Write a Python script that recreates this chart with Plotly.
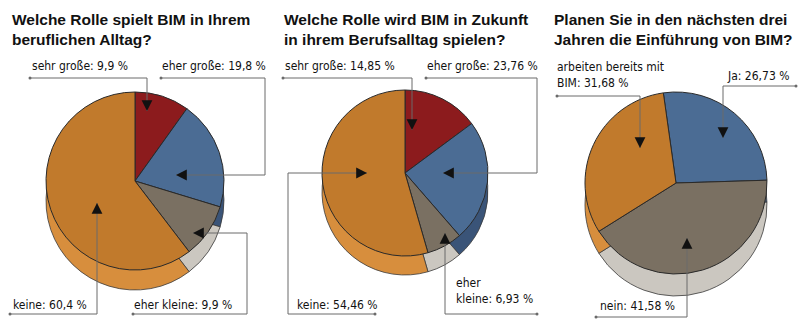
import plotly.graph_objects as go

# ---------------- data ----------------
titles = [
    "Welche Rolle spielt BIM in Ihrem<br>beruflichen Alltag?",
    "Welche Rolle wird BIM in Zukunft<br>in ihrem Berufsalltag spielen?",
    "Planen Sie in den nächsten drei<br>Jahren die Einführung von BIM?",
]

cats1 = ["sehr große", "eher große", "eher kleine", "keine"]
vals1 = [9.9, 19.8, 9.9, 60.4]
text1 = ["sehr große: 9,9 %", "eher große: 19,8 %", "eher kleine: 9,9 %", "keine: 60,4 %"]

cats2 = ["sehr große", "eher große", "eher kleine", "keine"]
vals2 = [14.85, 23.76, 6.93, 54.46]
text2 = ["sehr große: 14,85 %", "eher große: 23,76 %", "eher<br>kleine: 6,93 %", "keine: 54,46 %"]

cats3 = ["Ja", "nein", "arbeiten bereits mit BIM"]
vals3 = [26.73, 41.58, 31.68]
text3 = ["Ja: 26,73 %", "nein: 41,58 %", "arbeiten bereits mit<br>BIM: 31,68 %"]

# ---------------- styling / layout ----------------
W, H = 800, 323
TOP = {"sehr große": "#8c1b1d", "eher große": "#4b6c94", "eher kleine": "#7a7062",
       "keine": "#c17a2c", "Ja": "#4b6c94", "nein": "#7a7062",
       "arbeiten bereits mit BIM": "#c17a2c"}
SIDE = {"sehr große": "#5e1012", "eher große": "#3a5478", "eher kleine": "#cbc7c0",
        "keine": "#d78e3d", "Ja": "#3a5478", "nein": "#cbc7c0",
        "arbeiten bereits mit BIM": "#d78e3d"}

# pie geometry in pixels: centre x, centre y (from top), diameter, depth, rotation
pies = [
    dict(cats=cats1, vals=vals1, cx=135, cy=181, d=178, depth=20, rot=0),
    dict(cats=cats2, vals=vals2, cx=405, cy=173, d=166, depth=19, rot=0),
    dict(cats=cats3, vals=vals3, cx=676, cy=183, d=182, depth=22, rot=-8),
]

title_x = [10, 282, 552]
title_y = 29

# label anchor positions (left x, middle y)
label_pos = [
    [(30, 66), (160, 66), (132, 305), (11, 305)],
    [(283, 66), (425, 66), (454, 291), (295, 305)],
    [(725, 76), (598, 306), (555, 75)],
]
label_texts = [text1, text2, text3]

# leader polylines (first point has a dot, last point is the arrow tip)
leaders = [
    [(30, 78), (147, 78), (147, 111)],
    [(161, 78), (265, 78), (265, 175), (176, 175)],
    [(133, 314), (247, 314), (247, 233), (193, 233)],
    [(10, 314), (97, 314), (97, 203)],
    [(283, 78), (412, 78), (412, 130)],
    [(426, 78), (537, 78), (537, 173), (443, 173)],
    [(537, 314), (445, 314), (445, 233)],
    [(375, 314), (288, 314), (288, 173), (367, 173)],
    [(557, 96), (640, 96), (640, 148)],
    [(796, 86), (723, 86), (723, 138)],
    [(596, 317), (687, 317), (687, 238)],
]

LABEL_FONT = "DejaVu Sans Condensed, Liberation Sans, Arial, sans-serif"
TITLE_FONT = "Liberation Sans, Arial, sans-serif"
LINE_COL = "#6a6a6a"

fig = go.Figure()

def dom(cx, cy, d, shift=0):
    x0 = (cx - d / 2) / W
    x1 = (cx + d / 2) / W
    y0 = (H - (cy + shift) - d / 2) / H
    y1 = (H - (cy + shift) + d / 2) / H
    return dict(x=[x0, x1], y=[y0, y1])

for p in pies:
    # side (depth) pie
    fig.add_trace(go.Pie(
        labels=p["cats"], values=p["vals"], sort=False, direction="clockwise",
        rotation=p["rot"], domain=dom(p["cx"], p["cy"], p["d"], p["depth"]),
        marker=dict(colors=[SIDE[c] for c in p["cats"]], line=dict(color="#3a3a3a", width=0.8)),
        textinfo="none", hoverinfo="skip", showlegend=False))
    # top face
    fig.add_trace(go.Pie(
        labels=p["cats"], values=p["vals"], sort=False, direction="clockwise",
        rotation=p["rot"], domain=dom(p["cx"], p["cy"], p["d"]),
        marker=dict(colors=[TOP[c] for c in p["cats"]], line=dict(color="#2a2a2a", width=1)),
        textinfo="none", hoverinfo="skip", showlegend=False))

shapes = []
annotations = []

for path in leaders:
    d = "M " + " L ".join(f"{x},{y}" for x, y in path)
    shapes.append(dict(type="path", path=d, xref="x", yref="y",
                       line=dict(color=LINE_COL, width=1)))
    x0, y0 = path[0]
    shapes.append(dict(type="circle", xref="x", yref="y", x0=x0 - 1.5, x1=x0 + 1.5,
                       y0=y0 - 1.5, y1=y0 + 1.5, fillcolor=LINE_COL,
                       line=dict(color=LINE_COL, width=0)))
    (px, py), (tx, ty) = path[-2], path[-1]
    dx = 0 if tx == px else (1 if tx > px else -1)
    dy = 0 if ty == py else (1 if ty > py else -1)
    annotations.append(dict(x=tx, y=ty, xref="x", yref="y", text="", showarrow=True,
                            ax=-dx * 8, ay=-dy * 8, arrowhead=2, arrowsize=1.8,
                            arrowwidth=1.2, arrowcolor="#111111"))

for i, t in enumerate(titles):
    annotations.append(dict(x=title_x[i], y=title_y, xref="x", yref="y", text=f"<b>{t}</b>",
                            showarrow=False, xanchor="left", yanchor="middle", align="left",
                            font=dict(family=TITLE_FONT, size=15.5, color="#111111")))

for texts, poss in zip(label_texts, label_pos):
    for t, (x, y) in zip(texts, poss):
        annotations.append(dict(x=x, y=y, xref="x", yref="y", text=t, showarrow=False,
                                xanchor="left", yanchor="middle", align="left",
                                font=dict(family=LABEL_FONT, size=12, color="#111111")))

fig.update_layout(
    width=W, height=H, margin=dict(l=0, r=0, t=0, b=0),
    paper_bgcolor="white", plot_bgcolor="rgba(0,0,0,0)",
    xaxis=dict(range=[0, W], visible=False, fixedrange=True, domain=[0, 1]),
    yaxis=dict(range=[H, 0], visible=False, fixedrange=True, domain=[0, 1]),
    shapes=shapes, annotations=annotations, showlegend=False,
)

fig.write_html("out.html", config={"displayModeBar": False})
